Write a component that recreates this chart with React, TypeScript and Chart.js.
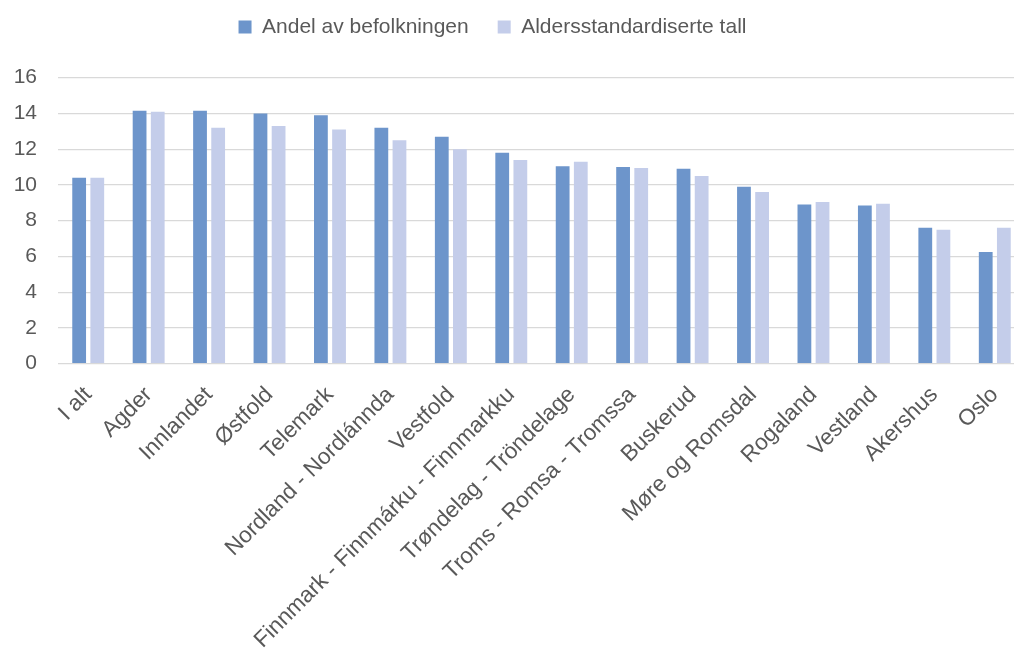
import React, { useEffect, useRef } from "react";
import { Chart, registerables } from "chart.js";

Chart.register(...registerables);

const categories = [
  "I alt",
  "Agder",
  "Innlandet",
  "Østfold",
  "Telemark",
  "Nordland - Nordlánnda",
  "Vestfold",
  "Finnmark - Finnmárku - Finnmarkku",
  "Trøndelag - Tröndelage",
  "Troms - Romsa - Tromssa",
  "Buskerud",
  "Møre og Romsdal",
  "Rogaland",
  "Vestland",
  "Akershus",
  "Oslo",
];

const andelAvBefolkningen = [10.4, 14.15, 14.15, 14.0, 13.9, 13.2, 12.7, 11.8, 11.05, 11.0, 10.9, 9.9, 8.9, 8.85, 7.6, 6.25];
const aldersstandardiserteTall = [10.4, 14.1, 13.2, 13.3, 13.1, 12.5, 12.0, 11.4, 11.3, 10.95, 10.5, 9.6, 9.05, 8.95, 7.5, 7.6];

const seriesNames = ["Andel av befolkningen", "Aldersstandardiserte tall"];
const yTicks = { min: 0, max: 16, step: 2 };

const FONT = "'Liberation Sans', Arial, sans-serif";
const TEXT = "#595959";

export default function App() {
  const ref = useRef<HTMLCanvasElement | null>(null);

  useEffect(() => {
    if (!ref.current) return;
    const legendHeightPlugin = {
      id: "legendHeight",
      beforeLayout(chart: any) {
        const lg = chart.legend;
        if (lg && !lg.__patched) {
          const orig = lg.fit;
          lg.fit = function () {
            orig.call(this);
            this.height = 90.2;
          };
          lg.__patched = true;
        }
      },
    };
    const chart = new Chart(ref.current, {
      type: "bar",
      data: {
        labels: categories,
        datasets: [
          {
            label: seriesNames[0],
            data: andelAvBefolkningen,
            backgroundColor: "#6d95cb",
            categoryPercentage: 0.6,
            barPercentage: 0.76,
          },
          {
            label: seriesNames[1],
            data: aldersstandardiserteTall,
            backgroundColor: "#c4cdea",
            categoryPercentage: 0.6,
            barPercentage: 0.76,
          },
        ],
      },
      options: {
        responsive: false,
        maintainAspectRatio: false,
        animation: false,
        layout: { padding: { top: -12.5, left: 0, right: 0, bottom: 0 } },
        plugins: {
          tooltip: { enabled: false },
          legend: {
            position: "top",
            labels: {
              boxWidth: 13,
              boxHeight: 13,
              padding: 29,
              color: TEXT,
              font: { family: FONT, size: 21 },
            },
          },
        },
        scales: {
          x: {
            grid: { display: false },
            border: { display: false },
            ticks: {
              color: TEXT,
              font: { family: FONT, size: 22.5 },
              minRotation: 45,
              maxRotation: 45,
              padding: 10,
              autoSkip: false,
            },
            afterFit(scale: any) {
              scale.height = 289.3;
              scale.paddingLeft = 0;
              scale.paddingRight = 0;
            },
          },
          y: {
            min: yTicks.min,
            max: yTicks.max,
            grid: { color: "#d9d9d9", lineWidth: 1.3, drawTicks: false },
            border: { display: false },
            ticks: {
              stepSize: yTicks.step,
              color: TEXT,
              font: { family: FONT, size: 21 },
              padding: 21,
            },
            afterFit(scale: any) {
              scale.width = 98;
            },
          },
        },
      },
      plugins: [legendHeightPlugin],
    });
    return () => chart.destroy();
  }, []);

  return (
    <div
      style={{
        position: "fixed",
        left: 0,
        top: 0,
        width: 1014,
        height: 653,
        overflow: "hidden",
        background: "#fff",
      }}
    >
      <canvas
        ref={ref}
        width={1065}
        height={653}
        style={{ position: "absolute", left: -40, top: 0, display: "block" }}
      />
    </div>
  );
}
